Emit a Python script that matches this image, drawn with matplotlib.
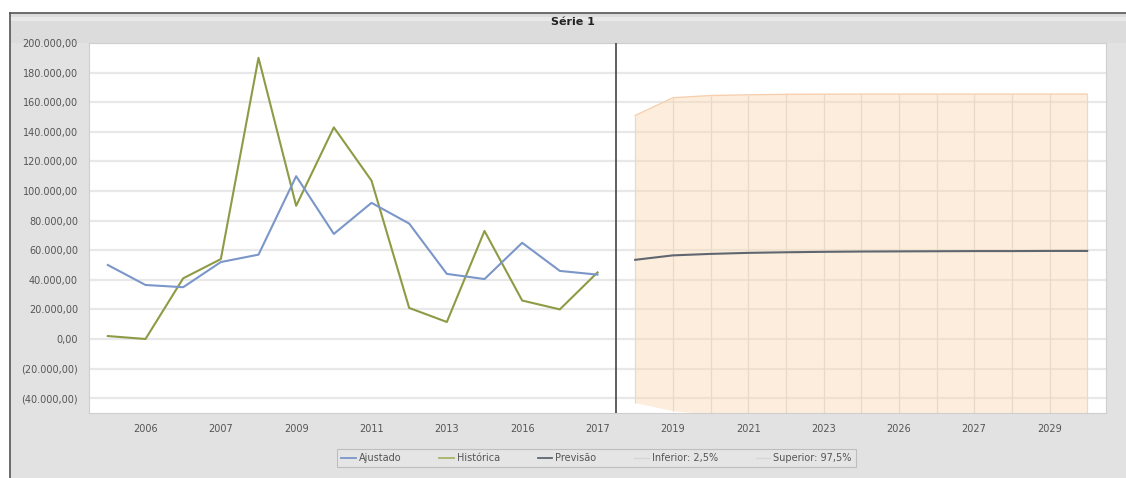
import matplotlib
matplotlib.use("Agg")
import matplotlib.pyplot as plt
from matplotlib.patches import Rectangle
from matplotlib.lines import Line2D
from matplotlib.ticker import FuncFormatter, FixedLocator

# --- data ---
hist_idx = list(range(14))
historica = [2000, 0, 41000, 54000, 190000, 90000, 143000, 107000,
             21000, 11500, 73000, 26000, 20000, 45000]
ajustado = [50000, 36500, 35000, 52000, 57000, 110000, 71000, 92000,
            78000, 44000, 40500, 65000, 46000, 43500]

fc_idx = list(range(14, 27))
previsao = [53500, 56500, 57500, 58200, 58600, 58900, 59100, 59200,
            59300, 59400, 59400, 59500, 59500]
superior = [151000, 163000, 164500, 165000, 165300, 165400, 165500, 165500,
            165500, 165500, 165500, 165500, 165500]
inferior = [-43000, -48500, -50500, -51000, -51200, -51300, -51400, -51500,
            -51500, -51500, -51500, -51500, -51500]

tick_pos = [1, 3, 5, 7, 9, 11, 13, 15, 17, 19, 21, 23, 25]
tick_labels = ["2006", "2007", "2009", "2011", "2013", "2016", "2017",
               "2019", "2021", "2023", "2026", "2027", "2029"]

W, H = 1126, 478
fig = plt.figure(figsize=(W / 100, H / 100), dpi=100, facecolor="white")


def box(x0, y0, w, h, color):
    # pixel box (top-left origin) drawn behind everything else
    r = Rectangle((x0 / W, 1 - (y0 + h) / H), w / W, h / H, transform=fig.transFigure,
                  facecolor=color, edgecolor="none", zorder=-5)
    fig.patches.append(r)


# chart panel background + title band
box(10, 13, W - 10, H - 13, "#e2e2e2")
box(10, 14, W - 10, 29, "#dcdcdc")
box(10, 17, W - 10, 4, "#e9e9e9")
for xs, ys in [([10 / W, 1], [1 - 13 / H, 1 - 13 / H]), ([10 / W, 10 / W], [0, 1 - 13 / H])]:
    fig.lines.append(Line2D(xs, ys, transform=fig.transFigure, color="#555555", lw=1.2, zorder=-4))

fig.text(573 / W, 1 - 22 / H, "Série 1", ha="center", va="center",
         fontsize=8, fontweight="bold", color="#222222")

ax = fig.add_axes([89 / W, 1 - 413 / H, (1106 - 89) / W, (413 - 43) / H])
ax.set_zorder(1)
ax.set_facecolor("white")

# gridlines (horizontal only)
ax.set_ylim(-50000, 200000)
ax.set_xlim(-0.5, 26.5)
ax.yaxis.set_major_locator(FixedLocator(range(-40000, 200001, 20000)))
ax.grid(axis="y", color="#e8e8e8", lw=1.6, zorder=0)
ax.set_axisbelow(True)

# vertical cell lines inside the forecast band
ax.vlines(fc_idx, inferior, superior, color="#dcdcdc", lw=0.9, zorder=1)

# confidence band
ax.fill_between(fc_idx, inferior, superior, color="#fbd6b0", alpha=0.42,
                lw=0, zorder=2)
ax.plot(fc_idx, superior, color="#f6cfae", lw=1.0, zorder=2)

# series
ax.plot(hist_idx, ajustado, color="#7b96c9", lw=1.5, zorder=4)
ax.plot(hist_idx, historica, color="#8e9b45", lw=1.5, zorder=3)
ax.plot(fc_idx, previsao, color="#5f6670", lw=1.5, zorder=4)

# separator between history and forecast
ax.axvline(13.5, color="#444444", lw=1.2, zorder=5)


def br_fmt(v, pos):
    s = f"{abs(v):,.2f}".replace(",", "X").replace(".", ",").replace("X", ".")
    return f"({s})" if v < 0 else s


ax.yaxis.set_major_formatter(FuncFormatter(br_fmt))
ax.set_xticks(tick_pos)
ax.set_xticklabels(tick_labels)
ax.tick_params(axis="both", length=0, labelsize=7, labelcolor="#555555")
ax.tick_params(axis="y", pad=8)
ax.tick_params(axis="x", pad=8)
for s in ax.spines.values():
    s.set_color("#cfcfcf")
    s.set_linewidth(0.8)

handles = [
    Line2D([], [], color="#7b96c9", lw=1.3),
    Line2D([], [], color="#a7b46a", lw=1.3),
    Line2D([], [], color="#5f6670", lw=1.3),
    Line2D([], [], color="#d6d6d6", lw=1.0),
    Line2D([], [], color="#d6d6d6", lw=1.0),
]
labels = ["Ajustado", "Histórica", "Previsão", "Inferior: 2,5%", "Superior: 97,5%"]
leg = fig.legend(handles, labels, loc="center", ncol=5,
                 bbox_to_anchor=(596.5 / W, 1 - 458 / H), fontsize=7,
                 frameon=True, fancybox=False, handlelength=1.5, handletextpad=0.3,
                 columnspacing=3.9, borderpad=0.4, borderaxespad=0)
leg.get_frame().set_facecolor("#e6e6e6")
leg.get_frame().set_edgecolor("#b5b5b5")
leg.get_frame().set_linewidth(0.8)
for t in leg.get_texts():
    t.set_color("#555555")

fig.savefig("out.png", dpi=100, facecolor=fig.get_facecolor())
